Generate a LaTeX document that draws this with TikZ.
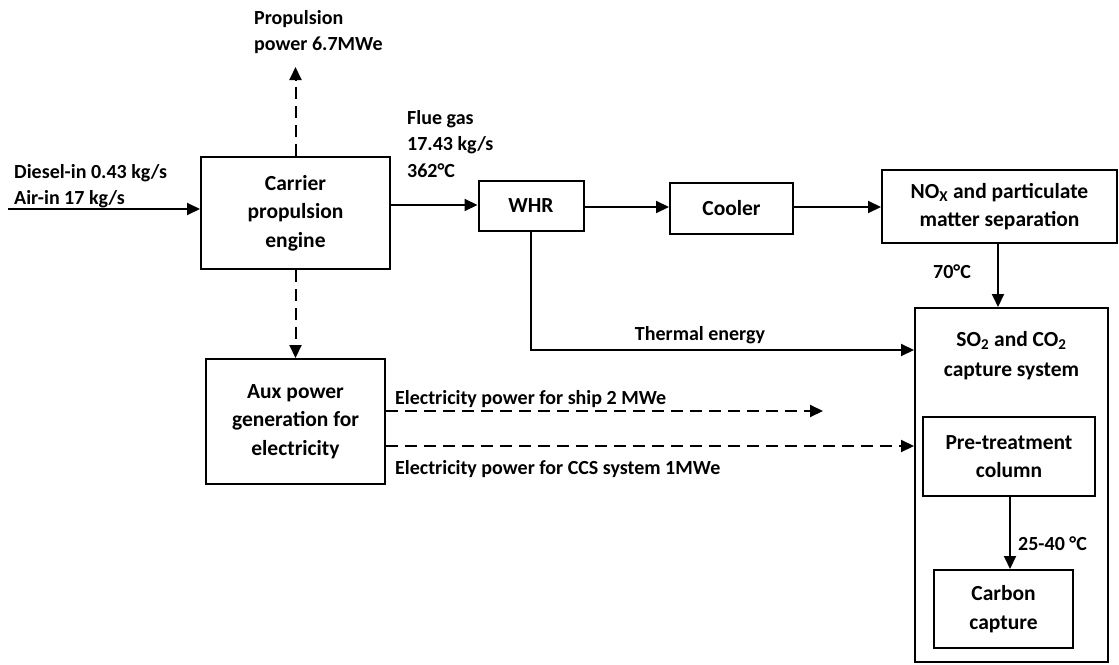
\documentclass[tikz,border=0pt]{standalone}
\usepackage{fontspec}
\setmainfont{Carlito}
\usetikzlibrary{arrows.meta}
\begin{document}
\begin{tikzpicture}[x=1pt,y=-1pt,
  box/.style={draw, line width=2pt, align=center, inner sep=0pt, font=\fontsize{21.5}{28.5}\selectfont\bfseries},
  boxtext/.style={align=center, inner sep=0pt, font=\fontsize{21.5}{30}\selectfont\bfseries},
  lbl/.style={inner sep=0pt, align=left, font=\fontsize{20}{26.5}\selectfont\bfseries},
  flow/.style={line width=2pt, -{Triangle[length=13pt,width=12pt]}},
  power/.style={flow, dash pattern=on 12pt off 7pt},
]
\fill[white] (0,0) rectangle (1119,664);
\useasboundingbox (0,0) rectangle (1119,664);

% boxes
\node[box, minimum width=189pt, minimum height=112pt] (engine) at (295.5,213) {Carrier\\propulsion\\engine};
\node[box, minimum width=105pt, minimum height=50pt] (whr) at (531,206) {WHR};
\node[box, minimum width=123pt, minimum height=51pt] (cooler) at (731.5,208.5) {Cooler};
\node[box, minimum width=235pt, minimum height=73pt] (nox) at (999.5,206.5) {NO\textsubscript{X} and particulate\\matter separation};
\node[box, minimum width=179pt, minimum height=125pt] (aux) at (295.5,421.5) {Aux power\\generation for\\electricity};
\node[box, minimum width=193pt, minimum height=354pt] (so2) at (1011.5,485) {};
\node[boxtext] (so2lbl) at (1011.5,356) {SO\textsubscript{2} and CO\textsubscript{2}\\capture system};
\node[box, minimum width=172pt, minimum height=79pt] (pre) at (1009,456.5) {Pre-treatment\\column};
\node[box, minimum width=139pt, minimum height=78pt] (carbon) at (1003.5,609) {Carbon\\capture};

% free ends
\coordinate (inlet) at (8,209);
\coordinate (proptip) at (295.5,67);
\coordinate (th) at (531,350);
\coordinate (shiptip) at (823,411);
\coordinate (ccs) at (0,446);

% connectors
\draw[flow] (inlet) -- (inlet -| engine.west);
\draw[power] (engine.north) -- (proptip);
\draw[power] (engine.south) -- (aux.north);
\draw[flow] (engine.east |- 0,205) -- (whr.west |- 0,205);
\draw[flow] (whr.east |- 0,207) -- (cooler.west |- 0,207);
\draw[flow] (cooler.east |- 0,207) -- (nox.west |- 0,207);
\draw[flow] (nox.south -| 998,0) -- (so2.north -| 998,0);
\draw[flow] (whr.south) -- (th) -- (th -| so2.west);
\draw[power] (aux.east |- shiptip) -- (shiptip);
\draw[power] (aux.east |- ccs) -- (so2.west |- ccs);
\draw[flow] (pre.south -| 1010,0) -- (carbon.north -| 1010,0);

% labels
\node[lbl, anchor=north west] (lprop) at (254,10) {Propulsion\\power 6.7MWe};
\node[lbl, anchor=north west] (lflue) at (407,110) {Flue gas\\17.43 kg/s\\362°C};
\node[lbl, anchor=north west] (lin) at (14,164) {Diesel-in 0.43 kg/s\\Air-in 17 kg/s};
\node[lbl, anchor=base] (lthermal) at (700,340) {Thermal energy};
\node[lbl, anchor=base west] (l70) at (933,278) {70°C};
\node[lbl, anchor=base west] (l25) at (1018,550) {25-40 °C};
\node[lbl, anchor=base west] (lship) at (395,404) {Electricity power for ship 2 MWe};
\node[lbl, anchor=base west] (lccs) at (395,474) {Electricity power for CCS system 1MWe};
\end{tikzpicture}
\end{document}
